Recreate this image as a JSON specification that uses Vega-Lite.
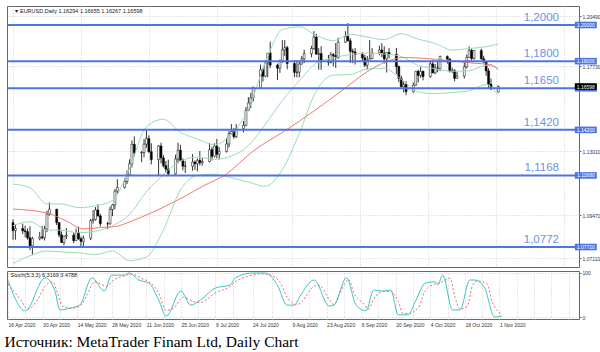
{
"$schema":"https://vega.github.io/schema/vega-lite/v6.json",
"background":"white",
"padding":{"left":4,"top":5,"right":0,"bottom":0},
"spacing":2,
"title":{"text":"Источник: MetaTrader Finam Ltd, Daily Chart","orient":"bottom","anchor":"start","font":"Liberation Serif","fontSize":15.5,"fontWeight":"normal","color":"#000","offset":7,"dx":-1},
"config":{"view":{"stroke":"#666","strokeWidth":1},"axis":{"labelFont":"Liberation Sans","labelFontSize":5,"labelColor":"#333","gridColor":"#cfcfcf","gridDash":[1,2],"gridWidth":1,"domain":false,"title":null}},
"datasets":{
"candles":[
{"d":"2020/04/16","o":1.0907,"h":1.0925,"l":1.0812,"c":1.0863},
{"d":"2020/04/17","o":1.0863,"h":1.0897,"l":1.0813,"c":1.0875},
{"d":"2020/04/20","o":1.0875,"h":1.0901,"l":1.0843,"c":1.0862},
{"d":"2020/04/21","o":1.0862,"h":1.0890,"l":1.0825,"c":1.0857},
{"d":"2020/04/22","o":1.0857,"h":1.0875,"l":1.0812,"c":1.0823},
{"d":"2020/04/23","o":1.0823,"h":1.0888,"l":1.0755,"c":1.0779},
{"d":"2020/04/24","o":1.0779,"h":1.0829,"l":1.0727,"c":1.0818},
{"d":"2020/04/27","o":1.0818,"h":1.0856,"l":1.0809,"c":1.0828},
{"d":"2020/04/28","o":1.0828,"h":1.0889,"l":1.0815,"c":1.0823},
{"d":"2020/04/29","o":1.0823,"h":1.0889,"l":1.0808,"c":1.0872},
{"d":"2020/04/30","o":1.0872,"h":1.0973,"l":1.0854,"c":1.0954},
{"d":"2020/05/01","o":1.0954,"h":1.1019,"l":1.0945,"c":1.0981},
{"d":"2020/05/04","o":1.0981,"h":1.0983,"l":1.0893,"c":1.0907},
{"d":"2020/05/05","o":1.0907,"h":1.0908,"l":1.0826,"c":1.0839},
{"d":"2020/05/06","o":1.0839,"h":1.0858,"l":1.0797,"c":1.0797},
{"d":"2020/05/07","o":1.0797,"h":1.0832,"l":1.0782,"c":1.0833},
{"d":"2020/05/08","o":1.0833,"h":1.0877,"l":1.0817,"c":1.0838},
{"d":"2020/05/11","o":1.0838,"h":1.0852,"l":1.0794,"c":1.0807},
{"d":"2020/05/12","o":1.0807,"h":1.0875,"l":1.0807,"c":1.0852},
{"d":"2020/05/13","o":1.0852,"h":1.0885,"l":1.0812,"c":1.0817},
{"d":"2020/05/14","o":1.0817,"h":1.0830,"l":1.0774,"c":1.0803},
{"d":"2020/05/15","o":1.0803,"h":1.0835,"l":1.0768,"c":1.0821},
{"d":"2020/05/18","o":1.0821,"h":1.0927,"l":1.0810,"c":1.0918},
{"d":"2020/05/19","o":1.0918,"h":1.0976,"l":1.0902,"c":1.0924},
{"d":"2020/05/20","o":1.0924,"h":1.0993,"l":1.0918,"c":1.0977},
{"d":"2020/05/21","o":1.0977,"h":1.1008,"l":1.0940,"c":1.0944},
{"d":"2020/05/22","o":1.0944,"h":1.0955,"l":1.0886,"c":1.0901},
{"d":"2020/05/25","o":1.0901,"h":1.0911,"l":1.0870,"c":1.0901},
{"d":"2020/05/26","o":1.0901,"h":1.0996,"l":1.0895,"c":1.0980},
{"d":"2020/05/27","o":1.0980,"h":1.1010,"l":1.0943,"c":1.1005},
{"d":"2020/05/28","o":1.1005,"h":1.1092,"l":1.0981,"c":1.1081},
{"d":"2020/05/29","o":1.1081,"h":1.1147,"l":1.1070,"c":1.1101},
{"d":"2020/06/01","o":1.1101,"h":1.1153,"l":1.1095,"c":1.1135},
{"d":"2020/06/02","o":1.1135,"h":1.1196,"l":1.1120,"c":1.1171},
{"d":"2020/06/03","o":1.1171,"h":1.1257,"l":1.1166,"c":1.1232},
{"d":"2020/06/04","o":1.1232,"h":1.1362,"l":1.1212,"c":1.1340},
{"d":"2020/06/05","o":1.1340,"h":1.1384,"l":1.1272,"c":1.1293},
{"d":"2020/06/08","o":1.1293,"h":1.1303,"l":1.1241,"c":1.1295},
{"d":"2020/06/09","o":1.1295,"h":1.1369,"l":1.1268,"c":1.1341},
{"d":"2020/06/10","o":1.1341,"h":1.1422,"l":1.1321,"c":1.1372},
{"d":"2020/06/11","o":1.1372,"h":1.1390,"l":1.1293,"c":1.1299},
{"d":"2020/06/12","o":1.1299,"h":1.1346,"l":1.1229,"c":1.1255},
{"d":"2020/06/15","o":1.1255,"h":1.1336,"l":1.1168,"c":1.1331},
{"d":"2020/06/16","o":1.1331,"h":1.1349,"l":1.1234,"c":1.1265},
{"d":"2020/06/17","o":1.1265,"h":1.1281,"l":1.1212,"c":1.1222},
{"d":"2020/06/18","o":1.1222,"h":1.1248,"l":1.1186,"c":1.1203},
{"d":"2020/06/19","o":1.1203,"h":1.1255,"l":1.1168,"c":1.1177},
{"d":"2020/06/22","o":1.1177,"h":1.1283,"l":1.1171,"c":1.1259},
{"d":"2020/06/23","o":1.1259,"h":1.1349,"l":1.1234,"c":1.1307},
{"d":"2020/06/24","o":1.1307,"h":1.1337,"l":1.1251,"c":1.1251},
{"d":"2020/06/25","o":1.1251,"h":1.1263,"l":1.1196,"c":1.1219},
{"d":"2020/06/26","o":1.1219,"h":1.1248,"l":1.1181,"c":1.1219},
{"d":"2020/06/29","o":1.1219,"h":1.1286,"l":1.1194,"c":1.1242},
{"d":"2020/06/30","o":1.1242,"h":1.1251,"l":1.1198,"c":1.1233},
{"d":"2020/07/01","o":1.1233,"h":1.1262,"l":1.1190,"c":1.1251},
{"d":"2020/07/02","o":1.1251,"h":1.1303,"l":1.1223,"c":1.1238},
{"d":"2020/07/03","o":1.1238,"h":1.1264,"l":1.1222,"c":1.1245},
{"d":"2020/07/06","o":1.1245,"h":1.1346,"l":1.1240,"c":1.1310},
{"d":"2020/07/07","o":1.1310,"h":1.1326,"l":1.1251,"c":1.1274},
{"d":"2020/07/08","o":1.1274,"h":1.1346,"l":1.1268,"c":1.1330},
{"d":"2020/07/09","o":1.1330,"h":1.1370,"l":1.1263,"c":1.1285},
{"d":"2020/07/10","o":1.1285,"h":1.1324,"l":1.1256,"c":1.1301},
{"d":"2020/07/13","o":1.1301,"h":1.1376,"l":1.1294,"c":1.1342},
{"d":"2020/07/14","o":1.1342,"h":1.1413,"l":1.1321,"c":1.1398},
{"d":"2020/07/15","o":1.1398,"h":1.1452,"l":1.1397,"c":1.1412},
{"d":"2020/07/16","o":1.1412,"h":1.1429,"l":1.1370,"c":1.1383},
{"d":"2020/07/17","o":1.1383,"h":1.1452,"l":1.1375,"c":1.1428},
{"d":"2020/07/20","o":1.1428,"h":1.1469,"l":1.1406,"c":1.1445},
{"d":"2020/07/21","o":1.1445,"h":1.1546,"l":1.1440,"c":1.1528},
{"d":"2020/07/22","o":1.1528,"h":1.1601,"l":1.1527,"c":1.1569},
{"d":"2020/07/23","o":1.1569,"h":1.1625,"l":1.1540,"c":1.1596},
{"d":"2020/07/24","o":1.1596,"h":1.1660,"l":1.1577,"c":1.1655},
{"d":"2020/07/27","o":1.1655,"h":1.1781,"l":1.1654,"c":1.1753},
{"d":"2020/07/28","o":1.1753,"h":1.1764,"l":1.1687,"c":1.1717},
{"d":"2020/07/29","o":1.1717,"h":1.1805,"l":1.1711,"c":1.1791},
{"d":"2020/07/30","o":1.1791,"h":1.1845,"l":1.1711,"c":1.1845},
{"d":"2020/07/31","o":1.1845,"h":1.1908,"l":1.1762,"c":1.1778},
{"d":"2020/08/03","o":1.1778,"h":1.1785,"l":1.1696,"c":1.1761},
{"d":"2020/08/04","o":1.1761,"h":1.1809,"l":1.1735,"c":1.1801},
{"d":"2020/08/05","o":1.1801,"h":1.1916,"l":1.1790,"c":1.1862},
{"d":"2020/08/06","o":1.1862,"h":1.1916,"l":1.1829,"c":1.1875},
{"d":"2020/08/07","o":1.1875,"h":1.1885,"l":1.1755,"c":1.1787},
{"d":"2020/08/10","o":1.1787,"h":1.1806,"l":1.1711,"c":1.1738},
{"d":"2020/08/11","o":1.1738,"h":1.1805,"l":1.1711,"c":1.1739},
{"d":"2020/08/12","o":1.1739,"h":1.1803,"l":1.1710,"c":1.1784},
{"d":"2020/08/13","o":1.1784,"h":1.1829,"l":1.1781,"c":1.1813},
{"d":"2020/08/14","o":1.1813,"h":1.1864,"l":1.1789,"c":1.1841},
{"d":"2020/08/17","o":1.1841,"h":1.1885,"l":1.1821,"c":1.1870},
{"d":"2020/08/18","o":1.1870,"h":1.1966,"l":1.1863,"c":1.1933},
{"d":"2020/08/19","o":1.1933,"h":1.1951,"l":1.1838,"c":1.1838},
{"d":"2020/08/20","o":1.1838,"h":1.1872,"l":1.1753,"c":1.1842},
{"d":"2020/08/21","o":1.1842,"h":1.1883,"l":1.1752,"c":1.1795},
{"d":"2020/08/24","o":1.1795,"h":1.1835,"l":1.1775,"c":1.1794},
{"d":"2020/08/25","o":1.1794,"h":1.1851,"l":1.1787,"c":1.1836},
{"d":"2020/08/26","o":1.1836,"h":1.1845,"l":1.1771,"c":1.1830},
{"d":"2020/08/27","o":1.1830,"h":1.1900,"l":1.1763,"c":1.1821},
{"d":"2020/08/28","o":1.1821,"h":1.1929,"l":1.1812,"c":1.1904},
{"d":"2020/08/31","o":1.1904,"h":1.1966,"l":1.1902,"c":1.1937},
{"d":"2020/09/01","o":1.1937,"h":1.2011,"l":1.1908,"c":1.1913},
{"d":"2020/09/02","o":1.1913,"h":1.1926,"l":1.1790,"c":1.1855},
{"d":"2020/09/03","o":1.1855,"h":1.1869,"l":1.1789,"c":1.1851},
{"d":"2020/09/04","o":1.1851,"h":1.1873,"l":1.1781,"c":1.1837},
{"d":"2020/09/07","o":1.1837,"h":1.1850,"l":1.1803,"c":1.1818},
{"d":"2020/09/08","o":1.1818,"h":1.1835,"l":1.1767,"c":1.1778},
{"d":"2020/09/09","o":1.1778,"h":1.1829,"l":1.1753,"c":1.1801},
{"d":"2020/09/10","o":1.1801,"h":1.1917,"l":1.1800,"c":1.1814},
{"d":"2020/09/11","o":1.1814,"h":1.1872,"l":1.1812,"c":1.1846},
{"d":"2020/09/14","o":1.1846,"h":1.1886,"l":1.1833,"c":1.1862},
{"d":"2020/09/15","o":1.1862,"h":1.1900,"l":1.1823,"c":1.1845},
{"d":"2020/09/16","o":1.1845,"h":1.1882,"l":1.1787,"c":1.1812},
{"d":"2020/09/17","o":1.1812,"h":1.1835,"l":1.1737,"c":1.1848},
{"d":"2020/09/18","o":1.1848,"h":1.1872,"l":1.1815,"c":1.1838},
{"d":"2020/09/21","o":1.1838,"h":1.1873,"l":1.1729,"c":1.1770},
{"d":"2020/09/22","o":1.1770,"h":1.1776,"l":1.1684,"c":1.1705},
{"d":"2020/09/23","o":1.1705,"h":1.1720,"l":1.1655,"c":1.1659},
{"d":"2020/09/24","o":1.1659,"h":1.1688,"l":1.1627,"c":1.1671},
{"d":"2020/09/25","o":1.1671,"h":1.1688,"l":1.1612,"c":1.1631},
{"d":"2020/09/28","o":1.1631,"h":1.1682,"l":1.1626,"c":1.1667},
{"d":"2020/09/29","o":1.1667,"h":1.1746,"l":1.1664,"c":1.1744},
{"d":"2020/09/30","o":1.1744,"h":1.1753,"l":1.1683,"c":1.1721},
{"d":"2020/10/01","o":1.1721,"h":1.1771,"l":1.1708,"c":1.1744},
{"d":"2020/10/02","o":1.1744,"h":1.1747,"l":1.1694,"c":1.1715},
{"d":"2020/10/05","o":1.1715,"h":1.1797,"l":1.1708,"c":1.1785},
{"d":"2020/10/06","o":1.1785,"h":1.1807,"l":1.1733,"c":1.1735},
{"d":"2020/10/07","o":1.1735,"h":1.1784,"l":1.1728,"c":1.1763},
{"d":"2020/10/08","o":1.1763,"h":1.1795,"l":1.1739,"c":1.1758},
{"d":"2020/10/09","o":1.1758,"h":1.1830,"l":1.1745,"c":1.1826},
{"d":"2020/10/12","o":1.1826,"h":1.1832,"l":1.1786,"c":1.1812},
{"d":"2020/10/13","o":1.1812,"h":1.1815,"l":1.1737,"c":1.1745},
{"d":"2020/10/14","o":1.1745,"h":1.1764,"l":1.1735,"c":1.1747},
{"d":"2020/10/15","o":1.1747,"h":1.1756,"l":1.1688,"c":1.1705},
{"d":"2020/10/16","o":1.1705,"h":1.1741,"l":1.1705,"c":1.1717},
{"d":"2020/10/19","o":1.1717,"h":1.1799,"l":1.1704,"c":1.1769},
{"d":"2020/10/20","o":1.1769,"h":1.1837,"l":1.1760,"c":1.1821},
{"d":"2020/10/21","o":1.1821,"h":1.1881,"l":1.1820,"c":1.1860},
{"d":"2020/10/22","o":1.1860,"h":1.1869,"l":1.1803,"c":1.1815},
{"d":"2020/10/23","o":1.1815,"h":1.1860,"l":1.1808,"c":1.1859},
{"d":"2020/10/26","o":1.1859,"h":1.1869,"l":1.1808,"c":1.1813},
{"d":"2020/10/27","o":1.1813,"h":1.1830,"l":1.1790,"c":1.1795},
{"d":"2020/10/28","o":1.1795,"h":1.1797,"l":1.1719,"c":1.1746},
{"d":"2020/10/29","o":1.1746,"h":1.1760,"l":1.1652,"c":1.1672},
{"d":"2020/10/30","o":1.1672,"h":1.1703,"l":1.1640,"c":1.1646},
{"d":"2020/11/02","o":1.1629,"h":1.1666,"l":1.1627,"c":1.1660}
],
"bb":[
{"d":"2020/04/16","u":1.1120,"m":1.0890,"lo":1.0680},
{"d":"2020/04/23","u":1.1100,"m":1.0912,"lo":1.0724},
{"d":"2020/04/30","u":1.1010,"m":1.0866,"lo":1.0750},
{"d":"2020/05/06","u":1.1010,"m":1.0865,"lo":1.0745},
{"d":"2020/05/13","u":1.0990,"m":1.0851,"lo":1.0740},
{"d":"2020/05/20","u":1.1000,"m":1.0859,"lo":1.0730},
{"d":"2020/05/27","u":1.1030,"m":1.0890,"lo":1.0750},
{"d":"2020/06/03","u":1.1207,"m":1.0952,"lo":1.0697},
{"d":"2020/06/10","u":1.1437,"m":1.1077,"lo":1.0717},
{"d":"2020/06/17","u":1.1479,"m":1.1173,"lo":1.0867},
{"d":"2020/06/24","u":1.1406,"m":1.1247,"lo":1.1088},
{"d":"2020/07/01","u":1.1370,"m":1.1269,"lo":1.1168},
{"d":"2020/07/08","u":1.1338,"m":1.1257,"lo":1.1175},
{"d":"2020/07/15","u":1.1395,"m":1.1275,"lo":1.1155},
{"d":"2020/07/22","u":1.1535,"m":1.1333,"lo":1.1131},
{"d":"2020/07/29","u":1.1792,"m":1.1450,"lo":1.1108},
{"d":"2020/08/05","u":1.1975,"m":1.1583,"lo":1.1200},
{"d":"2020/08/12","u":1.1990,"m":1.1692,"lo":1.1401},
{"d":"2020/08/19","u":1.1942,"m":1.1789,"lo":1.1636},
{"d":"2020/08/26","u":1.1913,"m":1.1818,"lo":1.1723},
{"d":"2020/09/02","u":1.1948,"m":1.1837,"lo":1.1726},
{"d":"2020/09/09","u":1.1934,"m":1.1845,"lo":1.1757},
{"d":"2020/09/16","u":1.1919,"m":1.1840,"lo":1.1760},
{"d":"2020/09/23","u":1.1952,"m":1.1826,"lo":1.1700},
{"d":"2020/09/30","u":1.1922,"m":1.1776,"lo":1.1630},
{"d":"2020/10/07","u":1.1898,"m":1.1759,"lo":1.1620},
{"d":"2020/10/14","u":1.1861,"m":1.1744,"lo":1.1627},
{"d":"2020/10/21","u":1.1870,"m":1.1747,"lo":1.1636},
{"d":"2020/10/28","u":1.1880,"m":1.1777,"lo":1.1670},
{"d":"2020/11/02","u":1.1895,"m":1.1760,"lo":1.1610}
],
"ma":[
{"d":"2020/04/16","v":1.0982},{"d":"2020/04/30","v":1.0960},{"d":"2020/05/08","v":1.0916},{"d":"2020/05/15","v":1.0872},{"d":"2020/05/22","v":1.0880},{"d":"2020/05/28","v":1.0885},{"d":"2020/06/04","v":1.0916},{"d":"2020/06/11","v":1.0955},{"d":"2020/06/18","v":1.0999},{"d":"2020/06/26","v":1.1054},{"d":"2020/07/03","v":1.1107},{"d":"2020/07/13","v":1.1176},{"d":"2020/07/24","v":1.1303},{"d":"2020/08/06","v":1.1414},{"d":"2020/08/18","v":1.1524},{"d":"2020/08/31","v":1.1652},{"d":"2020/09/09","v":1.1742},{"d":"2020/09/18","v":1.1803},{"d":"2020/09/24","v":1.1820},{"d":"2020/10/08","v":1.1810},{"d":"2020/10/22","v":1.1790},{"d":"2020/10/30","v":1.1780},{"d":"2020/11/02","v":1.1752}
],
"levels":[
{"v":1.2000,"t":"1,2000","tag":"1.20000"},
{"v":1.1800,"t":"1,1800","tag":"1.18000"},
{"v":1.1650,"t":"1,1650","tag":""},
{"v":1.1420,"t":"1,1420","tag":"1.14200"},
{"v":1.1168,"t":"1,1168","tag":"1.11680"},
{"v":1.0772,"t":"1,0772","tag":"1.07720"}
],
"last":[{"v":1.16598,"tag":"1.16598"}],
"stk":[
{"d":"2020/04/16","k":82},{"d":"2020/04/23","k":14},{"d":"2020/05/01","k":89},{"d":"2020/05/05","k":59},{"d":"2020/05/07","k":16},{"d":"2020/05/11","k":20},{"d":"2020/05/15","k":27},{"d":"2020/05/20","k":89},{"d":"2020/05/25","k":59},{"d":"2020/05/28","k":95},{"d":"2020/06/02","k":95},{"d":"2020/06/04","k":100},{"d":"2020/06/08","k":84},{"d":"2020/06/12","k":77},{"d":"2020/06/16","k":39},{"d":"2020/06/19","k":2},{"d":"2020/06/25","k":59},{"d":"2020/06/29","k":27},{"d":"2020/07/03","k":39},{"d":"2020/07/09","k":66},{"d":"2020/07/15","k":73},{"d":"2020/07/17","k":89},{"d":"2020/07/24","k":100},{"d":"2020/07/29","k":100},{"d":"2020/08/03","k":73},{"d":"2020/08/07","k":27},{"d":"2020/08/10","k":27},{"d":"2020/08/12","k":45},{"d":"2020/08/18","k":84},{"d":"2020/08/24","k":25},{"d":"2020/08/26","k":27},{"d":"2020/08/31","k":89},{"d":"2020/09/04","k":27},{"d":"2020/09/08","k":14},{"d":"2020/09/11","k":61},{"d":"2020/09/15","k":59},{"d":"2020/09/18","k":61},{"d":"2020/09/21","k":5},{"d":"2020/09/25","k":5},{"d":"2020/09/28","k":36},{"d":"2020/10/02","k":77},{"d":"2020/10/06","k":80},{"d":"2020/10/07","k":73},{"d":"2020/10/09","k":95},{"d":"2020/10/13","k":16},{"d":"2020/10/16","k":16},{"d":"2020/10/20","k":84},{"d":"2020/10/22","k":84},{"d":"2020/10/26","k":66},{"d":"2020/10/30","k":0},{"d":"2020/11/02","k":2}
],
"std":[
{"d":"2020/04/16","v":75},{"d":"2020/04/21","v":40},{"d":"2020/04/24","v":18},{"d":"2020/04/28","v":40},{"d":"2020/05/01","v":70},{"d":"2020/05/04","v":80},{"d":"2020/05/06","v":55},{"d":"2020/05/08","v":25},{"d":"2020/05/12","v":20},{"d":"2020/05/15","v":24},{"d":"2020/05/18","v":50},{"d":"2020/05/21","v":80},{"d":"2020/05/26","v":70},{"d":"2020/05/29","v":85},{"d":"2020/06/02","v":93},{"d":"2020/06/05","v":97},{"d":"2020/06/09","v":88},{"d":"2020/06/12","v":80},{"d":"2020/06/16","v":55},{"d":"2020/06/19","v":15},{"d":"2020/06/22","v":20},{"d":"2020/06/26","v":45},{"d":"2020/06/30","v":35},{"d":"2020/07/03","v":33},{"d":"2020/07/09","v":55},{"d":"2020/07/15","v":70},{"d":"2020/07/17","v":80},{"d":"2020/07/22","v":92},{"d":"2020/07/27","v":98},{"d":"2020/07/30","v":97},{"d":"2020/08/04","v":80},{"d":"2020/08/07","v":45},{"d":"2020/08/11","v":28},{"d":"2020/08/13","v":35},{"d":"2020/08/18","v":70},{"d":"2020/08/20","v":72},{"d":"2020/08/24","v":40},{"d":"2020/08/26","v":28},{"d":"2020/08/28","v":50},{"d":"2020/09/01","v":85},{"d":"2020/09/03","v":55},{"d":"2020/09/07","v":30},{"d":"2020/09/09","v":18},{"d":"2020/09/11","v":40},{"d":"2020/09/15","v":58},{"d":"2020/09/18","v":58},{"d":"2020/09/21","v":35},{"d":"2020/09/23","v":8},{"d":"2020/09/25","v":8},{"d":"2020/09/29","v":20},{"d":"2020/10/02","v":60},{"d":"2020/10/06","v":75},{"d":"2020/10/08","v":78},{"d":"2020/10/12","v":88},{"d":"2020/10/14","v":45},{"d":"2020/10/16","v":18},{"d":"2020/10/19","v":25},{"d":"2020/10/21","v":70},{"d":"2020/10/23","v":82},{"d":"2020/10/27","v":75},{"d":"2020/10/29","v":35},{"d":"2020/11/02","v":6}
]
},
"vconcat":[
{
"width":572,"height":261,
"layer":[
{"data":{"name":"candles"},"mark":{"type":"rule","color":"#000","strokeWidth":0.8},
"encoding":{
"x":{"field":"d","type":"temporal","scale":{"domain":[{"year":2020,"month":4,"date":15,"hours":14},{"year":2020,"month":12,"date":3,"hours":5}]},
"axis":{"labels":false,"ticks":false,"grid":true,"values":[{"year":2020,"month":4,"date":16},{"year":2020,"month":4,"date":23},{"year":2020,"month":4,"date":30},{"year":2020,"month":5,"date":7},{"year":2020,"month":5,"date":14},{"year":2020,"month":5,"date":21},{"year":2020,"month":5,"date":28},{"year":2020,"month":6,"date":4},{"year":2020,"month":6,"date":11},{"year":2020,"month":6,"date":18},{"year":2020,"month":6,"date":25},{"year":2020,"month":7,"date":2},{"year":2020,"month":7,"date":9},{"year":2020,"month":7,"date":16},{"year":2020,"month":7,"date":24},{"year":2020,"month":8,"date":1},{"year":2020,"month":8,"date":9},{"year":2020,"month":8,"date":16},{"year":2020,"month":8,"date":23},{"year":2020,"month":8,"date":30},{"year":2020,"month":9,"date":6},{"year":2020,"month":9,"date":13},{"year":2020,"month":9,"date":20},{"year":2020,"month":9,"date":27},{"year":2020,"month":10,"date":4},{"year":2020,"month":10,"date":11},{"year":2020,"month":10,"date":18},{"year":2020,"month":10,"date":25},{"year":2020,"month":11,"date":1},{"year":2020,"month":11,"date":8},{"year":2020,"month":11,"date":15},{"year":2020,"month":11,"date":22},{"year":2020,"month":11,"date":29}]}},
"y":{"field":"l","type":"quantitative","scale":{"domain":[1.06615,1.21051],"nice":false,"zero":false},
"axis":{"orient":"right","values":[1.0711,1.0829,1.0947,1.1065,1.1301,1.1537,1.1773,1.1891,1.2049],"format":".5f","tickSize":2,"tickColor":"#666","labelPadding":1,"grid":true}},
"y2":{"field":"h"}}},
{"data":{"name":"candles"},"mark":{"type":"bar","width":2,"stroke":"#000","strokeWidth":0.5},
"encoding":{"x":{"field":"d","type":"temporal"},"y":{"field":"o","type":"quantitative"},"y2":{"field":"c"},
"fill":{"condition":{"test":"datum.o > datum.c","value":"#000"},"value":"#fff"}}},
{"data":{"name":"bb"},"mark":{"type":"line","color":"#9cdcb0","strokeWidth":1,"interpolate":"monotone"},"encoding":{"x":{"field":"d","type":"temporal"},"y":{"field":"u","type":"quantitative"}}},
{"data":{"name":"bb"},"mark":{"type":"line","color":"#9cdcb0","strokeWidth":1,"interpolate":"monotone"},"encoding":{"x":{"field":"d","type":"temporal"},"y":{"field":"m","type":"quantitative"}}},
{"data":{"name":"bb"},"mark":{"type":"line","color":"#9cdcb0","strokeWidth":1,"interpolate":"monotone"},"encoding":{"x":{"field":"d","type":"temporal"},"y":{"field":"lo","type":"quantitative"}}},
{"data":{"name":"ma"},"mark":{"type":"line","color":"#ee7a70","strokeWidth":1,"interpolate":"monotone"},"encoding":{"x":{"field":"d","type":"temporal"},"y":{"field":"v","type":"quantitative"}}},
{"data":{"name":"levels"},"mark":{"type":"rule","color":"#4f74e0","strokeWidth":2},"encoding":{"y":{"field":"v","type":"quantitative"}}},
{"data":{"name":"levels"},"mark":{"type":"text","align":"right","baseline":"bottom","dy":-2,"font":"Liberation Sans","fontSize":11.5,"color":"#6f90e6"},
"encoding":{"x":{"datum":{"year":2020,"month":11,"date":27},"type":"temporal"},"y":{"field":"v","type":"quantitative"},"text":{"field":"t"}}},
{"data":{"name":"levels"},"mark":{"type":"point","shape":"M-1,-0.3H1V0.3H-1Z","size":484,"filled":true,"color":"#4f74e0","opacity":1},
"encoding":{"x":{"datum":{"year":2020,"month":12,"date":8,"hours":2},"type":"temporal"},"y":{"field":"v","type":"quantitative"}}},
{"data":{"name":"levels"},"mark":{"type":"text","align":"center","baseline":"middle","font":"Liberation Sans","fontSize":5,"color":"#fff"},
"encoding":{"x":{"datum":{"year":2020,"month":12,"date":8,"hours":2},"type":"temporal"},"y":{"field":"v","type":"quantitative"},"text":{"field":"tag"}}},
{"data":{"name":"last"},"mark":{"type":"point","shape":"M-1,-0.3H1V0.3H-1Z","size":484,"filled":true,"color":"#000","opacity":1},
"encoding":{"x":{"datum":{"year":2020,"month":12,"date":8,"hours":2},"type":"temporal"},"y":{"field":"v","type":"quantitative"}}},
{"data":{"name":"last"},"mark":{"type":"text","align":"center","baseline":"middle","font":"Liberation Sans","fontSize":5,"color":"#fff"},
"encoding":{"x":{"datum":{"year":2020,"month":12,"date":8,"hours":2},"type":"temporal"},"y":{"field":"v","type":"quantitative"},"text":{"field":"tag"}}},
{"data":{"values":[{"t":"▾ EURUSD,Daily  1.16294 1.16655 1.16267 1.16598"}]},"mark":{"type":"text","align":"left","baseline":"middle","font":"Liberation Sans","fontSize":5.5,"color":"#222"},
"encoding":{"x":{"datum":{"year":2020,"month":4,"date":17},"type":"temporal"},"y":{"datum":1.2075,"type":"quantitative"},"text":{"field":"t"}}}
]
},
{
"width":572,"height":48,
"resolve":{"axis":{"x":"independent"}},
"layer":[
{"data":{"name":"stk"},"mark":{"type":"line","color":"#3cc4c4","strokeWidth":1,"interpolate":"monotone"},
"encoding":{
"x":{"field":"d","type":"temporal","scale":{"domain":[{"year":2020,"month":4,"date":15,"hours":14},{"year":2020,"month":12,"date":3,"hours":5}]},
"axis":{"grid":false,"ticks":false,"labelAlign":"left","labelPadding":3,"labelOverlap":false,"labelFlush":false,"format":"%-d %b %Y",
"values":[{"year":2020,"month":4,"date":16},{"year":2020,"month":4,"date":30},{"year":2020,"month":5,"date":14},{"year":2020,"month":5,"date":28},{"year":2020,"month":6,"date":11},{"year":2020,"month":6,"date":25},{"year":2020,"month":7,"date":9},{"year":2020,"month":7,"date":24},{"year":2020,"month":8,"date":9},{"year":2020,"month":8,"date":23},{"year":2020,"month":9,"date":6},{"year":2020,"month":9,"date":20},{"year":2020,"month":10,"date":4},{"year":2020,"month":10,"date":18},{"year":2020,"month":11,"date":1}]}},
"y":{"field":"k","type":"quantitative","scale":{"domain":[-4.5,104.5],"nice":false,"zero":false},
"axis":{"orient":"right","values":[0,20,80,100],"tickSize":2,"tickColor":"#666","labelPadding":1,"grid":true}}}},
{"data":{"name":"std"},"mark":{"type":"line","color":"#f06a6a","strokeWidth":1,"strokeDash":[2,2],"interpolate":"monotone"},
"encoding":{"x":{"field":"d","type":"temporal","axis":{"labels":false,"ticks":false,"grid":true,"values":[{"year":2020,"month":4,"date":16},{"year":2020,"month":4,"date":23},{"year":2020,"month":4,"date":30},{"year":2020,"month":5,"date":7},{"year":2020,"month":5,"date":14},{"year":2020,"month":5,"date":21},{"year":2020,"month":5,"date":28},{"year":2020,"month":6,"date":4},{"year":2020,"month":6,"date":11},{"year":2020,"month":6,"date":18},{"year":2020,"month":6,"date":25},{"year":2020,"month":7,"date":2},{"year":2020,"month":7,"date":9},{"year":2020,"month":7,"date":16},{"year":2020,"month":7,"date":24},{"year":2020,"month":8,"date":1},{"year":2020,"month":8,"date":9},{"year":2020,"month":8,"date":16},{"year":2020,"month":8,"date":23},{"year":2020,"month":8,"date":30},{"year":2020,"month":9,"date":6},{"year":2020,"month":9,"date":13},{"year":2020,"month":9,"date":20},{"year":2020,"month":9,"date":27},{"year":2020,"month":10,"date":4},{"year":2020,"month":10,"date":11},{"year":2020,"month":10,"date":18},{"year":2020,"month":10,"date":25},{"year":2020,"month":11,"date":1},{"year":2020,"month":11,"date":8},{"year":2020,"month":11,"date":15},{"year":2020,"month":11,"date":22},{"year":2020,"month":11,"date":29}]}},"y":{"field":"v","type":"quantitative"}}},
{"data":{"values":[{"t":"Stoch(5,3,3) 6.3169 3.4788"}]},"mark":{"type":"text","align":"left","baseline":"middle","font":"Liberation Sans","fontSize":5.5,"color":"#222"},
"encoding":{"x":{"datum":{"year":2020,"month":4,"date":17},"type":"temporal","axis":null},"y":{"datum":96,"type":"quantitative"},"text":{"field":"t"}}}
]
}
]
}
